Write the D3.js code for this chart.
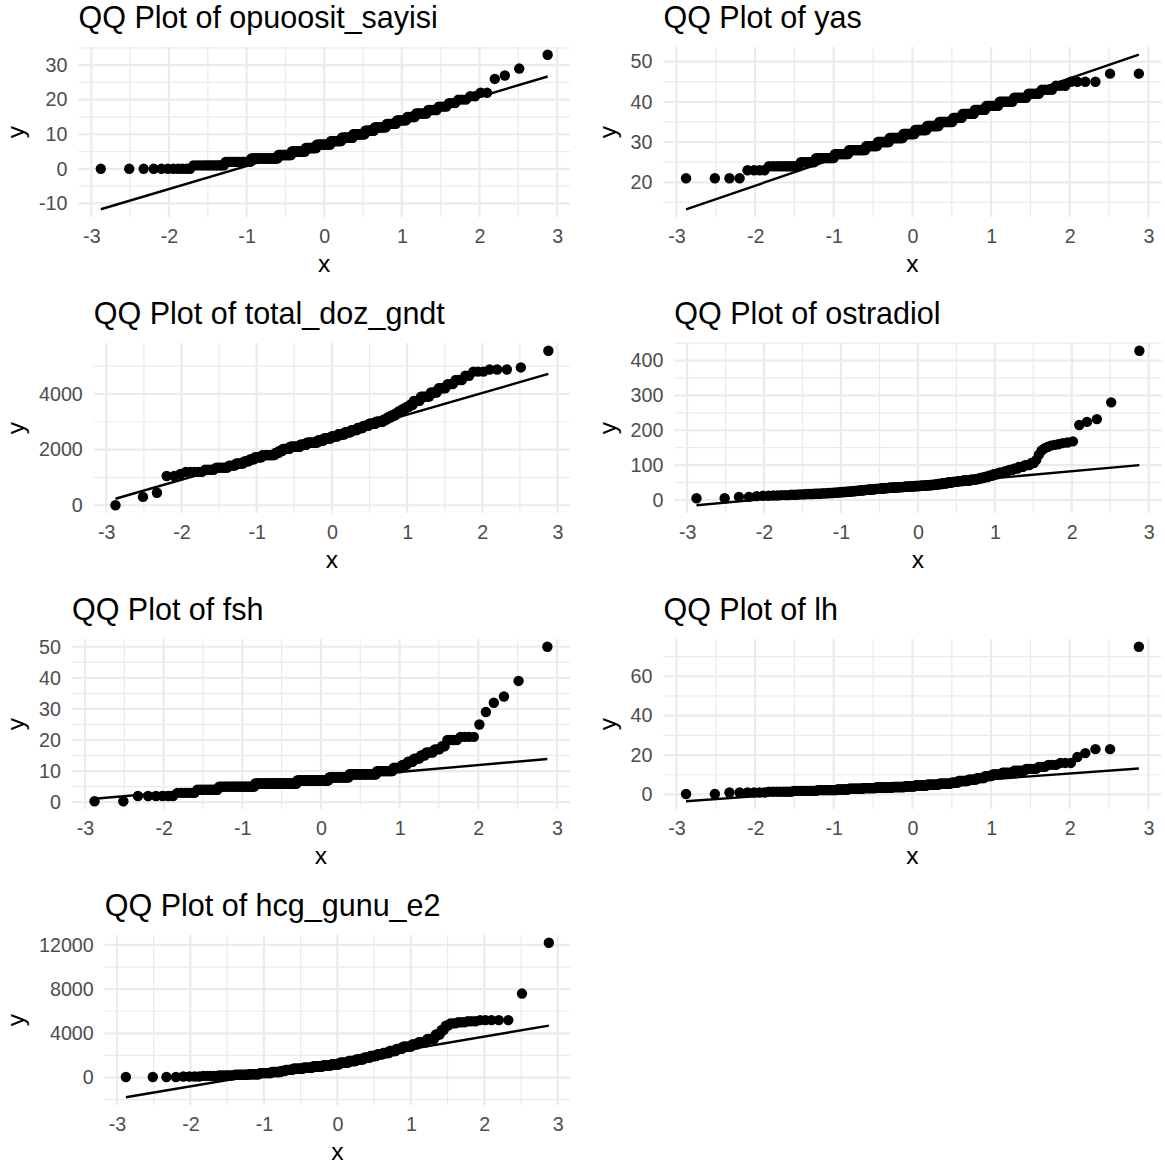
<!DOCTYPE html>
<html>
<head>
<meta charset="utf-8">
<script src="https://cdn.jsdelivr.net/npm/d3@7"></script>
<style>
  html, body { margin: 0; padding: 0; background: #ffffff; }
  svg { display: block; }
</style>
</head>
<body>
<script>
// ---------------- DATA (sorted sample values as [value, count]) ----------------
const variables = ["opuoosit_sayisi", "yas", "total_doz_gndt", "ostradiol", "fsh", "lh", "hcg_gunu_e2"];

const opuoositSayisi = [[0,11],[1,14],[2,18],[3,26],[4,15],[5,17],[6,14],[7,18],[8,14],[9,14],[10,14],[11,10],[12,12],[13,9],[14,8],[15,6],[16,7],[17,5],[18,4],[19,3],[20,3],[21,2],[22,2],[26,1],[27,1],[29,1],[33,1]];

const yas = [[21,4],[23,4],[24,11],[25,8],[26,13],[27,12],[28,17],[29,13],[30,14],[31,17],[32,15],[33,15],[34,15],[35,16],[36,10],[37,12],[38,10],[39,10],[40,9],[41,7],[42,5],[43,4],[44,3],[45,4],[47,2]];

const totalDozGndt = [[0,1],[300,1],[450,1],[1050,2],[1125,1],[1200,5],[1275,4],[1350,6],[1425,4],[1500,5],[1575,4],[1650,4],[1725,6],[1800,12],[1875,4],[1950,4],[2025,8],[2100,12],[2175,8],[2250,14],[2325,8],[2400,10],[2475,9],[2550,9],[2625,8],[2700,8],[2775,7],[2850,7],[2925,8],[3000,8],[3075,4],[3150,4],[3225,4],[3300,3],[3375,3],[3450,3],[3525,3],[3600,3],[3750,5],[3900,6],[4050,4],[4200,4],[4350,3],[4500,3],[4650,2],[4800,3],[4875,3],[4950,1],[5550,1]];

const ostradiol = [[5,2],[9,2],[11,1],[12,2],[13,2],[14,3],[15,3],[16,3],[17,4],[18,4],[19,4],[20,4],[21,3],[22,3],[23,4],[24,4],[25,3],[26,3],[27,3],[28,4],[29,4],[30,4],[31,4],[32,5],[33,5],[34,5],[35,6],[36,6],[37,7],[38,7],[39,7],[40,7],[41,6],[42,6],[43,5],[44,5],[46,6],[48,6],[50,6],[52,6],[54,6],[56,8],[58,5],[60,4],[63,4],[66,4],[70,4],[74,4],[78,4],[82,3],[86,3],[90,3],[95,3],[100,3],[106,2],[115,1],[130,1],[142,1],[148,1],[152,1],[156,1],[158,1],[160,1],[163,1],[165,1],[168,1],[215,1],[224,1],[232,1],[280,1],[428,1]];

const fsh = [[0.3,2],[2,6],[3,6],[4,10],[5,26],[6,45],[7,40],[8,25],[9,30],[10,15],[11,7],[12,4],[13,4],[14,4],[15,3],[16,4],[17,3],[18,2],[20,4],[21,4],[25,1],[29,1],[32,1],[34,1],[39,1],[50,1]];

const lh = [[0.2,2],[1.0,6],[1.4,8],[1.8,12],[2.2,14],[2.5,10],[2.9,14],[3.2,14],[3.5,20],[3.8,15],[4.1,13],[4.5,15],[5.0,15],[5.5,14],[6.0,8],[6.8,10],[7.5,8],[8.3,7],[9.3,6],[10.2,7],[11,7],[12,6],[13,5],[14,3],[15,3],[16,3],[19,1],[21,1],[23,2],[75,1]];

const hcgGunuE2 = [[50,4],[100,4],[150,5],[200,7],[250,8],[300,8],[400,10],[500,9],[600,5],[700,8],[800,12],[900,12],[1000,13],[1100,12],[1200,11],[1350,12],[1500,10],[1650,10],[1800,8],[1950,8],[2100,7],[2220,7],[2400,7],[2600,6],[2800,8],[3000,5],[3200,6],[3500,5],[3900,3],[4300,2],[4700,2],[4900,3],[5000,3],[5100,3],[5200,5],[7600,1],[12200,1]];

// tick labels
const xTicks = [-3, -2, -1, 0, 1, 2, 3];
const yTicksOpuoosit = [-10, 0, 10, 20, 30];
const yTicksYas = [20, 30, 40, 50];
const yTicksTotalDoz = [0, 2000, 4000];
const yTicksOstradiol = [0, 100, 200, 300, 400];
const yTicksFsh = [0, 10, 20, 30, 40, 50];
const yTicksLh = [0, 20, 40, 60];
const yTicksHcg = [0, 4000, 8000, 12000];

// ---------------- helpers ----------------
function qnorm(p) {
  const a = [-3.969683028665376e+01, 2.209460984245205e+02, -2.759285104469687e+02, 1.383577518672690e+02, -3.066479806614716e+01, 2.506628277459239e+00];
  const b = [-5.447609879822406e+01, 1.615858368580409e+02, -1.556989798598866e+02, 6.680131188771972e+01, -1.328068155288572e+01];
  const c = [-7.784894002430293e-03, -3.223964580411365e-01, -2.400758277161838e+00, -2.549732539343734e+00, 4.374664141464968e+00, 2.938163982698783e+00];
  const d = [7.784695709041462e-03, 3.224671290700398e-01, 2.445134137142996e+00, 3.754408661907416e+00];
  const pl = 0.02425, ph = 1 - pl;
  let q, r;
  if (p < pl) {
    q = Math.sqrt(-2 * Math.log(p));
    return (((((c[0]*q+c[1])*q+c[2])*q+c[3])*q+c[4])*q+c[5]) / ((((d[0]*q+d[1])*q+d[2])*q+d[3])*q+1);
  }
  if (p <= ph) {
    q = p - 0.5; r = q * q;
    return (((((a[0]*r+a[1])*r+a[2])*r+a[3])*r+a[4])*r+a[5])*q / (((((b[0]*r+b[1])*r+b[2])*r+b[3])*r+b[4])*r+1);
  }
  q = Math.sqrt(-2 * Math.log(1 - p));
  return -(((((c[0]*q+c[1])*q+c[2])*q+c[3])*q+c[4])*q+c[5]) / ((((d[0]*q+d[1])*q+d[2])*q+d[3])*q+1);
}
function expand(ext, mult) {
  const w = ext[1] - ext[0];
  return [ext[0] - w * mult, ext[1] + w * mult];
}
function minorBreaks(majors, dom) {
  const out = [];
  const step = majors[1] - majors[0];
  const ext = [majors[0] - step].concat(majors, [majors[majors.length - 1] + step]);
  for (let i = 0; i < ext.length - 1; i++) {
    const m = (ext[i] + ext[i + 1]) / 2;
    if (m >= dom[0] && m <= dom[1]) out.push(m);
  }
  return out;
}

// ---------------- layout / style ----------------
const W = 1165, H = 1167;
const cellW = 591.5, cellH = 296;
const panelTop = 47, panelBottom = 217, panelRight = 570;
const FONT = "'Liberation Sans', Arial, Helvetica, sans-serif";
const gridCol = "#ebebeb";

const svg = d3.select("body").append("svg").attr("width", W).attr("height", H)
  .attr("font-family", FONT);
svg.append("rect").attr("width", W).attr("height", H).attr("fill", "#ffffff");

const panels = [
  { name: variables[0], data: opuoositSayisi, yTicks: yTicksOpuoosit },
  { name: variables[1], data: yas, yTicks: yTicksYas },
  { name: variables[2], data: totalDozGndt, yTicks: yTicksTotalDoz },
  { name: variables[3], data: ostradiol, yTicks: yTicksOstradiol },
  { name: variables[4], data: fsh, yTicks: yTicksFsh },
  { name: variables[5], data: lh, yTicks: yTicksLh },
  { name: variables[6], data: hcgGunuE2, yTicks: yTicksHcg }
];

panels.forEach((p, k) => {
  const col = k % 2, row = Math.floor(k / 2);
  const g = svg.append("g").attr("transform", `translate(${col * cellW},${row * cellH})`);

  // sample & theoretical quantiles (stat_qq)
  const ys = [];
  p.data.forEach(([v, c]) => { for (let j = 0; j < c; j++) ys.push(v); });
  ys.sort((a, b) => a - b);
  const n = ys.length;
  const pts = ys.map((v, i) => ({ x: qnorm((i + 0.5) / n), y: v }));

  // stat_qq_line through quartiles
  const q1y = d3.quantile(ys, 0.25), q3y = d3.quantile(ys, 0.75);
  const q1x = qnorm(0.25), q3x = qnorm(0.75);
  const slope = (q3y - q1y) / (q3x - q1x);
  const intercept = q1y - slope * q1x;
  const xr = [pts[0].x, pts[n - 1].x];
  const lineData = xr.map(x => ({ x: x, y: intercept + slope * x }));

  const xDom = expand(xr, 0.05);
  const yDom = expand(d3.extent(ys.concat(lineData.map(d => d.y))), 0.05);

  const gridG = g.append("g");
  const y = d3.scaleLinear().domain(yDom).range([panelBottom, panelTop]);

  // y axis labels (measure width first)
  const yAxisG = g.append("g")
    .call(d3.axisLeft(y).tickValues(p.yTicks).tickSize(0).tickPadding(11).tickFormat(d => String(d)));
  yAxisG.select(".domain").remove();
  yAxisG.attr("font-family", FONT).attr("font-size", 19.7);
  yAxisG.selectAll("text").attr("fill", "#4d4d4d");
  const maxW = d3.max(yAxisG.selectAll("text").nodes(), nd => nd.getComputedTextLength());
  const panelLeft = 50 + maxW;
  yAxisG.attr("transform", `translate(${panelLeft},0)`);

  const x = d3.scaleLinear().domain(xDom).range([panelLeft, panelRight]);

  // grid
  const xMinor = minorBreaks(xTicks, xDom), yMinor = minorBreaks(p.yTicks, yDom);
  gridG.selectAll("line.ymin").data(yMinor).join("line").attr("class", "ymin")
    .attr("x1", panelLeft).attr("x2", panelRight).attr("y1", d => y(d)).attr("y2", d => y(d))
    .attr("stroke", gridCol).attr("stroke-width", 1.2);
  gridG.selectAll("line.xmin").data(xMinor).join("line").attr("class", "xmin")
    .attr("y1", panelTop).attr("y2", panelBottom).attr("x1", d => x(d)).attr("x2", d => x(d))
    .attr("stroke", gridCol).attr("stroke-width", 1.2);
  gridG.selectAll("line.ymaj").data(p.yTicks).join("line").attr("class", "ymaj")
    .attr("x1", panelLeft).attr("x2", panelRight).attr("y1", d => y(d)).attr("y2", d => y(d))
    .attr("stroke", gridCol).attr("stroke-width", 2.2);
  gridG.selectAll("line.xmaj").data(xTicks).join("line").attr("class", "xmaj")
    .attr("y1", panelTop).attr("y2", panelBottom).attr("x1", d => x(d)).attr("x2", d => x(d))
    .attr("stroke", gridCol).attr("stroke-width", 2.2);

  // x axis labels
  const xAxisG = g.append("g").attr("transform", `translate(0,${panelBottom})`)
    .call(d3.axisBottom(x).tickValues(xTicks).tickSize(0).tickPadding(12.5).tickFormat(d => String(d)));
  xAxisG.select(".domain").remove();
  xAxisG.attr("font-family", FONT).attr("font-size", 19.7);
  xAxisG.selectAll("text").attr("fill", "#4d4d4d");

  // points
  g.append("g").selectAll("circle").data(pts).join("circle")
    .attr("cx", d => x(d.x)).attr("cy", d => y(d.y)).attr("r", 5.2).attr("fill", "#000000");

  // qq line
  g.append("path").datum(lineData)
    .attr("d", d3.line().x(d => x(d.x)).y(d => y(d.y)))
    .attr("stroke", "#000000").attr("stroke-width", 2.4).attr("fill", "none");

  // titles
  g.append("text").attr("x", panelLeft).attr("y", 28)
    .attr("font-size", 30.5).attr("fill", "#000000").text("QQ Plot of " + p.name);
  g.append("text").attr("x", (panelLeft + panelRight) / 2).attr("y", 272)
    .attr("text-anchor", "middle").attr("font-size", 24.6).attr("fill", "#000000").text("x");
  g.append("text").attr("transform", `translate(24,${(panelTop + panelBottom) / 2}) rotate(-90)`)
    .attr("text-anchor", "middle").attr("font-size", 24.6).attr("fill", "#000000").text("y");
});
</script>
</body>
</html>
